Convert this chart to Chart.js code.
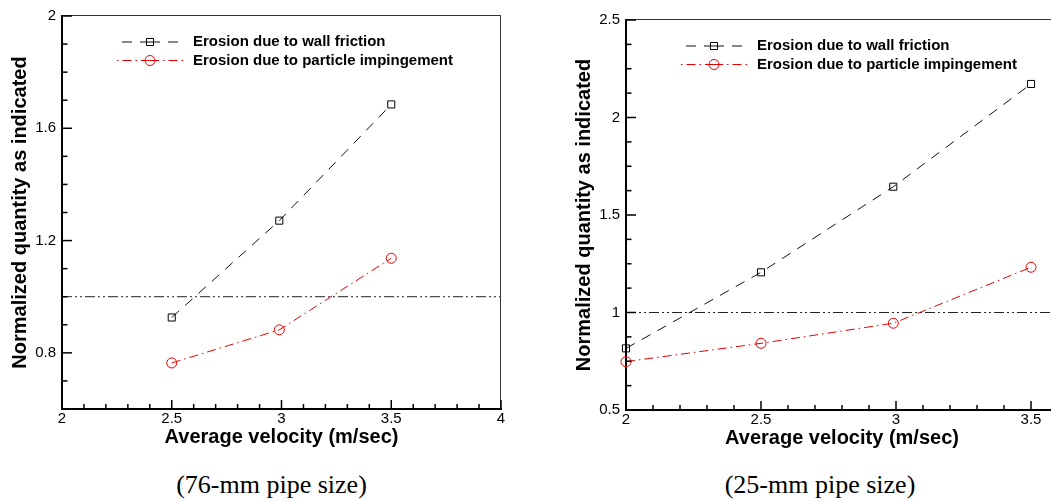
<!DOCTYPE html>
<html>
<head>
<meta charset="utf-8">
<script src="https://cdn.jsdelivr.net/npm/chart.js@4.4.1/dist/chart.umd.min.js"></script>
<style>
    html, body { margin: 0; padding: 0; background: #fff; overflow: hidden; }
    #page { position: relative; width: 1051px; height: 501px; overflow: hidden; }
    canvas { position: absolute; top: 0; }
    #chart76 { left: 0; }
    #chart25 { left: 564px; }
    .caption {
        position: absolute;
        top: 470px;
        font-family: 'Liberation Serif', 'Times New Roman', serif;
        font-size: 26px;
        line-height: 30px;
        text-align: center;
        color: #000;
    }
</style>
</head>
<body>
<div id="page">
    <canvas id="chart76" width="530" height="460"></canvas>
    <canvas id="chart25" width="500" height="460"></canvas>
    <div class="caption" style="left:0; width:543px;">(76-mm pipe size)</div>
    <div class="caption" style="left:620px; width:400px;">(25-mm pipe size)</div>
</div>
<script>
// 76-mm pipe
const velocity76 = [2.5, 2.99, 3.5];
const wallFriction76 = [0.926, 1.271, 1.685];
const impingement76 = [0.764, 0.882, 1.137];
const xTicks76 = [2, 2.5, 3, 3.5, 4];
const yTicks76 = [0.8, 1.2, 1.6, 2];

// 25-mm pipe
const velocity25 = [2, 2.5, 2.99, 3.5];
const wallFriction25 = [0.816, 1.206, 1.645, 2.172];
const impingement25 = [0.748, 0.842, 0.945, 1.232];
const xTicks25 = [2, 2.5, 3, 3.5];
const yTicks25 = [0.5, 1, 1.5, 2, 2.5];

const referenceLevel = 1;
const seriesLabels = ['Erosion due to wall friction', 'Erosion due to particle impingement'];
const xTitle = 'Average velocity (m/sec)';
const yTitle = 'Normalized quantity as indicated';

const FONT = "'Liberation Sans', Arial, Helvetica, sans-serif";
const RED = 'rgb(228, 0, 0)';

/**
 * Hollow marker, same look as the chart points
 */
function drawMarker(ctx, style, x, y, r, color) {
    ctx.strokeStyle = color;
    ctx.lineWidth = 1;
    ctx.setLineDash([]);
    ctx.beginPath();
    if (style === 'rect') {
        const h = r * Math.SQRT1_2;
        ctx.rect(x - h, y - h, 2 * h, 2 * h);
    } else {
        ctx.arc(x, y, r, 0, Math.PI * 2);
    }
    ctx.stroke();
}

/**
 * Legend drawn inside the plot: dashed sample with marker in the middle
 */
const inlineLegend = {
    id: 'inlineLegend',
    afterDraw(chart) {
        const {ctx, chartArea} = chart;
        const x0 = chartArea.left + 54;
        const x1 = chartArea.left + 123;
        const xm = chartArea.left + 88;
        const tx = chartArea.left + 131;
        chart.data.datasets.forEach((ds, i) => {
            if (ds.legendHidden) return;
            const y = chartArea.top + 26 + i * 18.5;
            ctx.save();
            ctx.strokeStyle = ds.borderColor;
            ctx.lineWidth = ds.borderWidth;
            ctx.setLineDash(ds.borderDash);
            ctx.beginPath();
            ctx.moveTo(xm, y);
            ctx.lineTo(x0, y);
            ctx.moveTo(xm, y);
            ctx.lineTo(x1, y);
            ctx.stroke();
            drawMarker(ctx, ds.pointStyle, xm, y, ds.pointRadius, ds.pointBorderColor);
            ctx.fillStyle = '#000';
            ctx.font = 'bold 15px ' + FONT;
            ctx.textBaseline = 'middle';
            ctx.fillText(ds.label, tx, y);
            ctx.restore();
        });
    }
};

/**
 * Thin top/right frame and inward ticks (major + minor)
 */
const axisFrame = {
    id: 'axisFrame',
    afterDraw(chart, args, opts) {
        const {ctx, chartArea: a, scales: {x, y}} = chart;
        ctx.save();
        ctx.strokeStyle = '#333';
        ctx.lineWidth = 1;
        ctx.beginPath();
        ctx.moveTo(a.left, a.top - 0.5);
        ctx.lineTo(a.right, a.top - 0.5);
        ctx.moveTo(a.right - 0.5, a.top);
        ctx.lineTo(a.right - 0.5, a.bottom);
        ctx.stroke();

        ctx.strokeStyle = '#000';
        ctx.lineWidth = 1.5;
        const nx = Math.round((x.max - x.min) / opts.xMinor);
        for (let i = 0; i <= nx; i++) {
            const v = x.min + i * opts.xMinor;
            const major = x.ticks.some(t => Math.abs(t.value - v) < 1e-6);
            const px = x.getPixelForValue(v);
            ctx.beginPath();
            ctx.moveTo(px, a.bottom);
            ctx.lineTo(px, a.bottom - (major ? 9 : 5));
            ctx.stroke();
        }
        const ny = Math.round((y.max - y.min) / opts.yMinor);
        for (let i = 0; i <= ny; i++) {
            const v = y.min + i * opts.yMinor;
            const major = y.ticks.some(t => Math.abs(t.value - v) < 1e-6);
            const py = y.getPixelForValue(v);
            ctx.beginPath();
            ctx.moveTo(a.left, py);
            ctx.lineTo(a.left + (major ? 10 : 5.5), py);
            ctx.stroke();
        }
        ctx.restore();
    }
};

function buildDatasets(velocity, wall, impinge, xMin, xMax) {
    return [
        {
            label: seriesLabels[0],
            data: velocity.map((v, i) => ({x: v, y: wall[i]})),
            borderColor: '#111',
            borderWidth: 1,
            borderDash: [10, 8],
            pointStyle: 'rect',
            pointRadius: 5,
            pointBorderColor: '#000',
            pointBorderWidth: 1,
            pointBackgroundColor: 'rgba(0,0,0,0)',
            clip: false
        },
        {
            label: seriesLabels[1],
            data: velocity.map((v, i) => ({x: v, y: impinge[i]})),
            borderColor: RED,
            borderWidth: 1,
            borderDash: [9, 4, 1.5, 4],
            pointStyle: 'circle',
            pointRadius: 5,
            pointBorderColor: RED,
            pointBorderWidth: 1,
            pointBackgroundColor: 'rgba(0,0,0,0)',
            clip: false
        },
        {
            label: 'reference',
            legendHidden: true,
            data: [{x: xMin, y: referenceLevel}, {x: xMax, y: referenceLevel}],
            borderColor: '#222',
            borderWidth: 1,
            borderDash: [10, 3, 2, 3, 2, 3],
            pointRadius: 0
        }
    ];
}

function buildChart(canvasId, cfg) {
    const ctx = document.getElementById(canvasId).getContext('2d');
    return new Chart(ctx, {
        type: 'line',
        data: {
            datasets: buildDatasets(cfg.velocity, cfg.wall, cfg.impinge, cfg.xMin, cfg.xMax)
        },
        plugins: [axisFrame, inlineLegend],
        options: {
            responsive: false,
            animation: false,
            events: [],
            devicePixelRatio: 1,
            layout: {padding: cfg.padding},
            plugins: {
                legend: {display: false},
                tooltip: {enabled: false},
                axisFrame: {xMinor: cfg.xMinor, yMinor: cfg.yMinor}
            },
            scales: {
                x: {
                    type: 'linear',
                    min: cfg.xMin,
                    max: cfg.xMax,
                    afterBuildTicks: s => { s.ticks = cfg.xTicks.map(v => ({value: v})); },
                    afterFit: s => { s.height = 40; },
                    ticks: {
                        callback: v => String(v),
                        font: {family: FONT, size: 15},
                        color: '#000',
                        padding: 1,
                        maxRotation: 0,
                        autoSkip: false
                    },
                    grid: {drawOnChartArea: false, drawTicks: false},
                    border: {display: true, color: '#000', width: 2},
                    title: {
                        display: true,
                        text: xTitle,
                        color: '#000',
                        font: {family: FONT, size: 20, weight: 'bold'},
                        padding: {top: 0, bottom: 0}
                    }
                },
                y: {
                    type: 'linear',
                    min: cfg.yMin,
                    max: cfg.yMax,
                    afterBuildTicks: s => { s.ticks = cfg.yTicks.map(v => ({value: v})); },
                    afterFit: s => { s.width = 62; },
                    ticks: {
                        callback: v => String(v),
                        font: {family: FONT, size: 15},
                        color: '#000',
                        padding: 6,
                        autoSkip: false
                    },
                    grid: {drawOnChartArea: false, drawTicks: false},
                    border: {display: true, color: '#000', width: 2},
                    title: {
                        display: true,
                        text: yTitle,
                        color: '#000',
                        font: {family: FONT, size: 20, weight: 'bold'},
                        padding: {top: 8, bottom: 0}
                    }
                }
            }
        }
    });
}

buildChart('chart76', {
    velocity: velocity76, wall: wallFriction76, impinge: impingement76,
    xMin: 2, xMax: 4, xTicks: xTicks76, xMinor: 0.1,
    yMin: 0.6, yMax: 2, yTicks: yTicks76, yMinor: 0.1,
    padding: {left: 0, top: 16, right: 29, bottom: 11}
});

buildChart('chart25', {
    velocity: velocity25, wall: wallFriction25, impinge: impingement25,
    xMin: 2, xMax: 3.6, xTicks: xTicks25, xMinor: 0.1,
    yMin: 0.5, yMax: 2.5, yTicks: yTicks25, yMinor: 0.125,
    padding: {left: 0, top: 20, right: 5, bottom: 10}
});
</script>
</body>
</html>
